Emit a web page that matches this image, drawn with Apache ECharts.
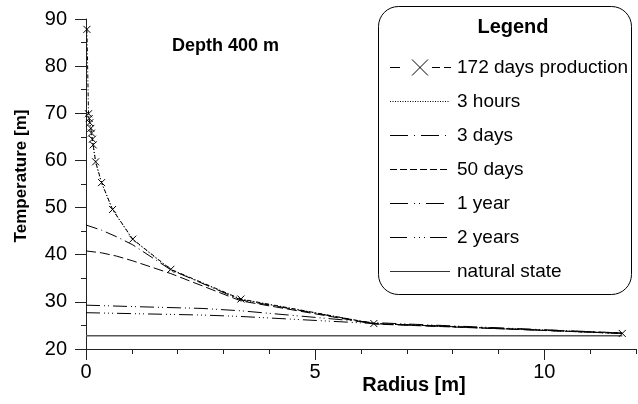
<!DOCTYPE html>
<html>
<head>
<meta charset="utf-8">
<script src="https://cdn.jsdelivr.net/npm/echarts@6/dist/echarts.min.js"></script>
<style>
  html, body { margin: 0; padding: 0; background: #fff; }
  #chart { width: 638px; height: 404px; }
</style>
</head>
<body>
<div id="chart"></div>
<script>
// Temperature profiles around the well at 400 m depth
const radiusProd = [0.02, 0.055, 0.07, 0.083, 0.105, 0.12, 0.14, 0.157, 0.21, 0.34, 0.58, 1.02, 1.85, 3.38, 6.28, 11.7];
const tempProd   = [87.8, 69.9, 68.9, 68.0, 66.8, 65.8, 64.5, 63.3, 59.7, 55.3, 49.6, 43.3, 36.9, 30.6, 25.4, 23.3];

const radius3h = [0, 0.055, 0.105, 0.21, 0.34, 0.58, 1.02, 1.85, 3.38, 6.28, 11.7];
const temp3h   = [70.5, 69.3, 66.5, 59.6, 55.2, 49.5, 43.2, 36.8, 30.5, 25.4, 23.3];

const radius3d = [0, 0.34, 0.67, 1.02, 1.85, 3.38, 6.28, 11.7];
const temp3d   = [46.3, 45.2, 43.8, 42.1, 36.8, 30.4, 25.4, 23.3];

const radius50d = [0, 0.34, 0.67, 1.02, 1.85, 3.38, 6.28, 11.7];
const temp50d   = [40.8, 40.4, 39.7, 38.7, 36.0, 30.2, 25.3, 23.3];

const radius1y = [0, 1.02, 2.55, 3.38, 6.28, 11.7];
const temp1y   = [29.3, 29.0, 28.6, 28.1, 25.6, 23.4];

const radius2y = [0, 1.02, 2.55, 3.38, 6.28, 11.7];
const temp2y   = [27.7, 27.5, 27.2, 26.9, 25.4, 23.4];

const radiusNat = [0, 11.7];
const tempNat   = [22.8, 22.8];

const xLabelTicks = [0, 5, 10];
const xMinorTicks = [1, 2, 3, 4, 6, 7, 8, 9, 11, 12];

const seriesNames = ['172 days production', '3 hours', '3 days', '50 days', '1 year', '2 years', 'natural state'];

const FONT = '"Liberation Sans", Arial, sans-serif';
const crossPath = 'path://M0,0L10,10M10,0L0,10';

// dash patterns of the curves
const dashes = {
  prod: [4, 2, 1, 2],
  h3: [1, 2],
  d3: [12, 4, 1, 4],
  d50: [10, 4],
  y1: [14, 4, 1, 3, 1, 4],
  y2: [14, 4, 1, 3, 1, 3, 1, 4]
};

function pairs(xs, ys) { return xs.map((x, i) => [x, ys[i]]); }

function lineSeries(name, xs, ys, dash, opts) {
  return Object.assign({
    name: name,
    type: 'line',
    data: pairs(xs, ys),
    showSymbol: false,
    symbol: 'none',
    lineStyle: { color: '#000', width: 1, type: dash },
    itemStyle: { color: '#000' },
    emphasis: { disabled: true },
    animation: false,
    z: 3
  }, opts || {});
}

const series = [
  lineSeries(seriesNames[0], radiusProd, tempProd, dashes.prod, {
    showSymbol: true,
    symbol: crossPath,
    symbolSize: 7,
    itemStyle: { color: 'transparent', borderColor: '#000', borderWidth: 1 },
    z: 5
  }),
  lineSeries(seriesNames[1], radius3h, temp3h, dashes.h3),
  lineSeries(seriesNames[2], radius3d, temp3d, dashes.d3),
  lineSeries(seriesNames[3], radius50d, temp50d, dashes.d50),
  lineSeries(seriesNames[4], radius1y, temp1y, dashes.y1),
  lineSeries(seriesNames[5], radius2y, temp2y, dashes.y2),
  lineSeries(seriesNames[6], radiusNat, tempNat, 'solid', {
    lineStyle: { color: '#555', width: 1.5, type: 'solid' }
  })
];

// legend box drawn as graphics: rounded frame, title, line samples and names
const legendX0 = 390, legendX1 = 450, legendTextX = 457, legendY0 = 67, legendStep = 34;
const legendDash = [null, [1, 1.5], [18, 6, 1, 6], [7, 3], [18, 6, 1, 4, 1, 6], [17, 7, 1, 4, 1, 4, 1, 5], null];
const legendGraphics = [
  {
    type: 'rect', z: 0,
    shape: { x: 378.5, y: 6.5, width: 253, height: 288, r: 20 },
    style: { fill: '#fff', stroke: '#000', lineWidth: 1 }
  },
  {
    type: 'text', z: 10,
    style: { text: 'Legend', font: 'bold 20px ' + FONT, fill: '#000', x: 513, y: 27, align: 'center', verticalAlign: 'middle' }
  }
];
function legendLine(x1, y1, x2, y2, dash, color) {
  return {
    type: 'line', z: 10,
    shape: { x1: x1, y1: y1, x2: x2, y2: y2 },
    style: { stroke: color || '#000', lineWidth: 1, lineDash: dash || null }
  };
}
seriesNames.forEach((name, i) => {
  const y = legendY0 + i * legendStep + 0.5;
  if (i === 0) {
    // dashed sample with a large cross marker
    legendGraphics.push(legendLine(390, y, 400, y));
    legendGraphics.push(legendLine(432, y, 440, y));
    legendGraphics.push(legendLine(444, y, 451, y));
    legendGraphics.push(legendLine(412, y - 8, 428, y + 8));
    legendGraphics.push(legendLine(428, y - 8, 412, y + 8));
  } else {
    legendGraphics.push(legendLine(legendX0, y, legendX1, y, legendDash[i], i === 6 ? '#333' : '#000'));
  }
  legendGraphics.push({
    type: 'text', z: 10,
    style: { text: name, font: '19px ' + FONT, fill: '#000', x: legendTextX, y: y, verticalAlign: 'middle' }
  });
});

const chart = echarts.init(document.getElementById('chart'), null, { renderer: 'canvas' });

chart.setOption({
  animation: false,
  backgroundColor: '#fff',
  grid: { left: 86, top: 19, width: 550, height: 330, containLabel: false },
  xAxis: [
    {
      type: 'value', min: 0, max: 12, interval: 5,
      axisLine: { show: true, onZero: false, lineStyle: { color: '#222', width: 1 } },
      axisTick: { show: true, length: 11, customValues: xLabelTicks, lineStyle: { color: '#222' } },
      axisLabel: { show: true, customValues: xLabelTicks, margin: 13, color: '#000', fontSize: 20, fontFamily: FONT },
      splitLine: { show: false }
    },
    {
      type: 'value', min: 0, max: 12, position: 'bottom', gridIndex: 0,
      axisLine: { show: false },
      axisTick: { show: true, length: 5, customValues: xMinorTicks, lineStyle: { color: '#222' } },
      axisLabel: { show: false },
      splitLine: { show: false }
    }
  ],
  yAxis: {
    type: 'value', min: 20, max: 90, interval: 10,
    axisLine: { show: true, onZero: false, lineStyle: { color: '#222', width: 1 } },
    axisTick: { show: true, length: 11, lineStyle: { color: '#222' } },
    minorTick: { show: true, splitNumber: 2, length: 5, lineStyle: { color: '#222' } },
    axisLabel: { margin: 19, color: '#000', fontSize: 20, fontFamily: FONT },
    splitLine: { show: false }
  },
  graphic: legendGraphics.concat([
    {
      type: 'text', z: 10,
      style: { text: 'Depth 400 m', font: 'bold 18px ' + FONT, fill: '#000', x: 172, y: 46, verticalAlign: 'middle' }
    },
    {
      type: 'text', z: 10,
      style: { text: 'Radius [m]', font: 'bold 20px ' + FONT, fill: '#000', x: 414, y: 385, align: 'center', verticalAlign: 'middle' }
    },
    {
      type: 'text', z: 10, rotation: Math.PI / 2, x: 21, y: 176,
      style: { text: 'Temperature [m]', font: 'bold 17px ' + FONT, fill: '#000', x: 0, y: 0, align: 'center', verticalAlign: 'middle' }
    }
  ]),
  series: series
});
</script>
</body>
</html>
